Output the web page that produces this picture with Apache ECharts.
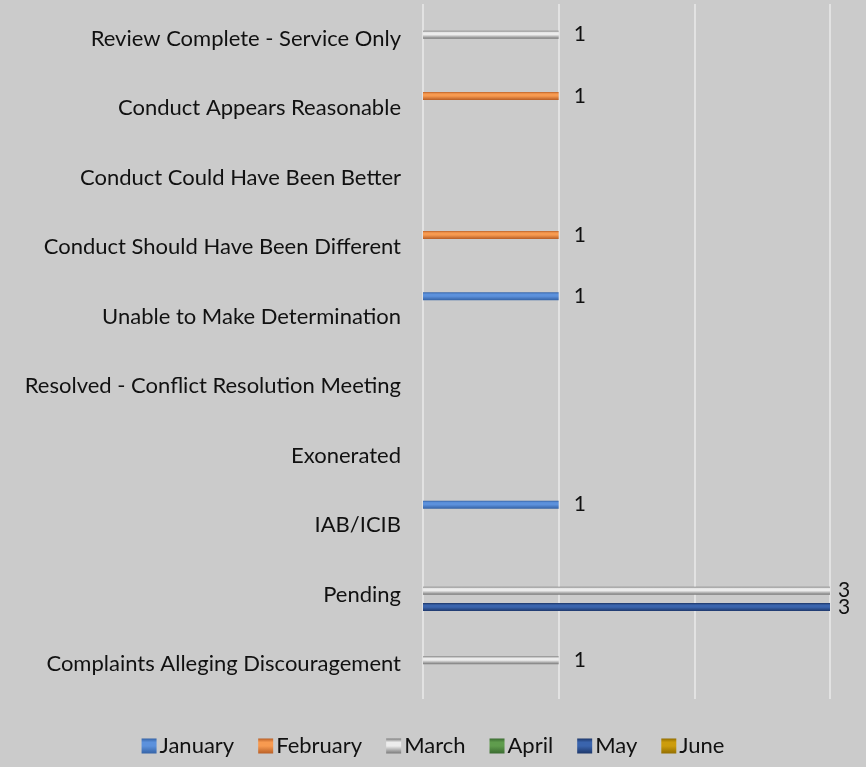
<!DOCTYPE html>
<html>
<head>
<meta charset="utf-8">
<title>Complaint outcomes by month</title>
<script src="https://cdn.jsdelivr.net/npm/echarts@6/dist/echarts.min.js"></script>
<style>
  html, body { margin: 0; padding: 0; background: #cbcbcb; }
  #main { width: 866px; height: 767px; }
</style>
</head>
<body>
<div id="main"></div>
<script>
// 分类（从上到下）
const categories = [
  "Review Complete - Service Only",
  "Conduct Appears Reasonable",
  "Conduct Could Have Been Better",
  "Conduct Should Have Been Different",
  "Unable to Make Determination",
  "Resolved - Conflict Resolution Meeting",
  "Exonerated",
  "IAB/ICIB",
  "Pending",
  "Complaints Alleging Discouragement",
];

const months = ["January", "February", "March", "April", "May", "June"];

// 各月数据，'-' 表示无数据
const janData = ["-", "-", "-", "-", 1, "-", "-", 1, "-", "-"];
const febData = ["-", 1, "-", 1, "-", "-", "-", "-", "-", "-"];
const marData = [1, "-", "-", "-", "-", "-", "-", "-", 3, 1];
const aprData = ["-", "-", "-", "-", "-", "-", "-", "-", "-", "-"];
const mayData = ["-", "-", "-", "-", "-", "-", "-", "-", 3, "-"];
const junData = ["-", "-", "-", "-", "-", "-", "-", "-", "-", "-"];

const xTicks = [0, 1, 2, 3];

// 每个月的颜色：[边缘, 中间]
const colors = [
  ["#3563a6", "#5c91dc"],
  ["#b95f26", "#f79a50"],
  ["#7a7a7a", "#ececec"],
  ["#3a6b30", "#5f9c4d"],
  ["#1d376a", "#3a64ad"],
  ["#936e00", "#cc9c0c"],
];

const allData = [janData, febData, marData, aprData, mayData, junData];
const xMax = xTicks[xTicks.length - 1];

function bevel(c) {
  // 上亮下深的渐变，模拟Excel的立体效果
  return {
    type: "linear",
    x: 0, y: 0, x2: 0, y2: 1,
    colorStops: [
      { offset: 0, color: c[0] },
      { offset: 0.25, color: c[1] },
      { offset: 0.5, color: c[1] },
      { offset: 1, color: c[0] },
    ],
  };
}

function toItems(arr) {
  // 达到最大值的标签贴近柱子末端
  return arr.map((v) =>
    v === "-" ? "-" : { value: v, label: { distance: v >= xMax ? 8 : 15 } }
  );
}

const myChart = echarts.init(document.querySelector("#main"));
const font = "Lato, 'Open Sans', sans-serif";

const option = {
  backgroundColor: "#cbcbcb",
  animation: false,
  grid: {
    left: 423,
    right: 36,
    top: 4,
    bottom: 68,
  },
  legend: {
    bottom: 5,
    left: "center",
    itemWidth: 15,
    itemHeight: 15,
    itemGap: 24,
    icon: "rect",
    data: months,
    textStyle: {
      fontFamily: font,
      fontSize: 22,
      color: "#111",
      padding: [0, 0, 0, -2],
    },
  },
  xAxis: {
    type: "value",
    min: xTicks[0],
    max: xMax,
    interval: 1,
    axisLabel: { show: false },
    axisLine: { show: false },
    axisTick: { show: false },
    splitLine: {
      lineStyle: { color: "#e2e2e2", width: 2 },
    },
  },
  yAxis: {
    type: "category",
    inverse: true,
    data: categories,
    axisLine: { show: false },
    axisTick: { show: false },
    axisLabel: {
      margin: 22,
      fontFamily: font,
      fontSize: 22,
      color: "#111",
    },
  },
  series: months.map((m, i) => ({
    name: m,
    type: "bar",
    data: toItems(allData[i]),
    barWidth: 8,
    barGap: "3%",
    itemStyle: {
      color: bevel(colors[i]),
    },
    label: {
      show: true,
      position: "right",
      fontFamily: font,
      fontSize: 21,
      color: "#111",
    },
  })),
};
myChart.setOption(option);
</script>
</body>
</html>
